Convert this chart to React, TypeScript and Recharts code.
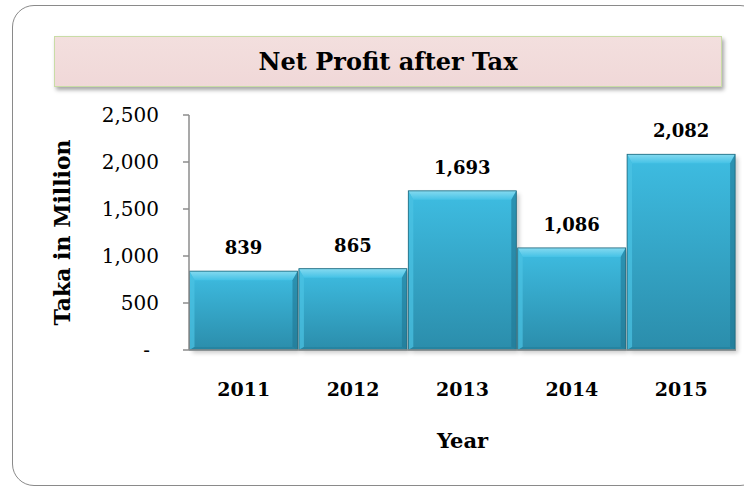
import { BarChart, Bar, XAxis, YAxis, LabelList } from "recharts";

const years = ["2011", "2012", "2013", "2014", "2015"];
const profit = [839, 865, 1693, 1086, 2082];
const yTicks = [0, 500, 1000, 1500, 2000, 2500];

const data = years.map((year, i) => ({ year, profit: profit[i] }));

const FONT = "'DejaVu Serif', Cambria, serif";

const fmt = (v: number) => (v === 0 ? "-" : v.toLocaleString("en-US"));

const BevelBar = (props: any) => {
  const { x, y, width, height } = props;
  if (!height || height <= 0) return null;
  const t = 9;
  const s = 5;
  const b = 3;
  return (
    <g>
      <rect x={x + 3} y={y + 3} width={width} height={height} fill="#000" opacity={0.2} filter="url(#barShadow)" />
      <rect x={x} y={y} width={width} height={height} fill="url(#barFace)" />
      <polygon
        points={`${x},${y} ${x + width},${y} ${x + width - s},${y + t} ${x + s},${y + t}`}
        fill="url(#barTop)"
      />
      <polygon
        points={`${x},${y} ${x + s},${y + t} ${x + s},${y + height - b} ${x},${y + height}`}
        fill="#4cc3e4"
        opacity={0.7}
      />
      <polygon
        points={`${x + width},${y} ${x + width - s},${y + t} ${x + width - s},${y + height - b} ${x + width},${y + height}`}
        fill="#1f7793"
        opacity={0.6}
      />
      <polygon
        points={`${x},${y + height} ${x + s},${y + height - b} ${x + width - s},${y + height - b} ${x + width},${y + height}`}
        fill="#23809c"
        opacity={0.7}
      />
      <rect x={x} y={y} width={width} height={height} fill="none" stroke="#1d6579" strokeWidth={0.8} />
    </g>
  );
};

const YTick = (props: any) => {
  const { x, y, payload } = props;
  const zero = payload.value === 0;
  return (
    <text
      x={zero ? x - 9 : x}
      y={y}
      dy="0.36em"
      textAnchor="end"
      fontFamily={FONT}
      fontSize={20}
      fill="#000"
    >
      {fmt(payload.value)}
    </text>
  );
};

const XTick = (props: any) => {
  const { x, y, payload } = props;
  return (
    <text x={x} y={y} dy="0.71em" textAnchor="middle" fontFamily={FONT} fontSize={19} fontWeight="bold" fill="#000">
      {payload.value}
    </text>
  );
};

export default function App() {
  return (
    <div
      style={{
        position: "absolute",
        left: 0,
        top: 0,
        width: 744,
        height: 487,
        background: "#fff",
        overflow: "hidden",
      }}
    >
      <div
        style={{
          position: "absolute",
          left: 12,
          top: 5,
          width: 750,
          height: 481,
          border: "1.5px solid #8a8a8a",
          borderRadius: 22,
          boxSizing: "border-box",
        }}
      />
      <div
        style={{
          position: "absolute",
          left: 54,
          top: 36,
          width: 668,
          height: 51,
          boxSizing: "border-box",
          border: "1.5px solid #c9dca6",
          background: "linear-gradient(#f3dfde, #f0d8d8)",
          boxShadow: "2px 3px 4px rgba(0,0,0,0.35)",
          display: "flex",
          alignItems: "center",
          justifyContent: "center",
          fontFamily: FONT,
          fontWeight: "bold",
          fontSize: 24,
          color: "#000",
        }}
      >
        Net Profit after Tax
      </div>
      <div style={{ position: "absolute", left: 0, top: 0 }}>
        <BarChart
          width={744}
          height={487}
          data={data}
          margin={{ top: 115, right: 8, bottom: 37, left: 0 }}
          barCategoryGap={0.5}
        >
          <defs>
            <linearGradient id="barFace" x1="0" y1="0" x2="0" y2="1">
              <stop offset="0%" stopColor="#3ebde2" />
              <stop offset="100%" stopColor="#2b8dab" />
            </linearGradient>
            <linearGradient id="barTop" x1="0" y1="0" x2="0" y2="1">
              <stop offset="0%" stopColor="#85daf0" />
              <stop offset="100%" stopColor="#45c2e6" />
            </linearGradient>
            <filter id="barShadow" x="-10%" y="-10%" width="130%" height="130%">
              <feGaussianBlur stdDeviation="2" />
            </filter>
          </defs>
          <YAxis
            width={189}
            domain={[0, 2500]}
            ticks={yTicks}
            interval={0}
            tick={<YTick />}
            tickSize={6}
            tickMargin={24}
            axisLine={{ stroke: "#8c8c8c", strokeWidth: 1.5 }}
            tickLine={{ stroke: "#8c8c8c", strokeWidth: 1.5 }}
            label={{
              value: "Taka in Million",
              angle: -90,
              position: "insideLeft",
              offset: 62,
              style: { textAnchor: "middle", fontFamily: FONT, fontWeight: "bold", fontSize: 22, fill: "#000" },
            }}
          />
          <XAxis
            dataKey="year"
            height={100}
            tick={<XTick />}
            tickLine={false}
            tickSize={6}
            tickMargin={27}
            axisLine={{ stroke: "#8c8c8c", strokeWidth: 1.5 }}
            label={{
              value: "Year",
              position: "insideBottom",
              offset: 2,
              style: { fontFamily: FONT, fontWeight: "bold", fontSize: 21, fill: "#000" },
            }}
          />
          <Bar dataKey="profit" shape={<BevelBar />} isAnimationActive={false}>
            <LabelList
              dataKey="profit"
              position="top"
              offset={17}
              formatter={(v: any) => Number(v).toLocaleString("en-US")}
              style={{ fontFamily: FONT, fontWeight: "bold", fontSize: 18, fill: "#000" }}
            />
          </Bar>
        </BarChart>
      </div>
    </div>
  );
}
